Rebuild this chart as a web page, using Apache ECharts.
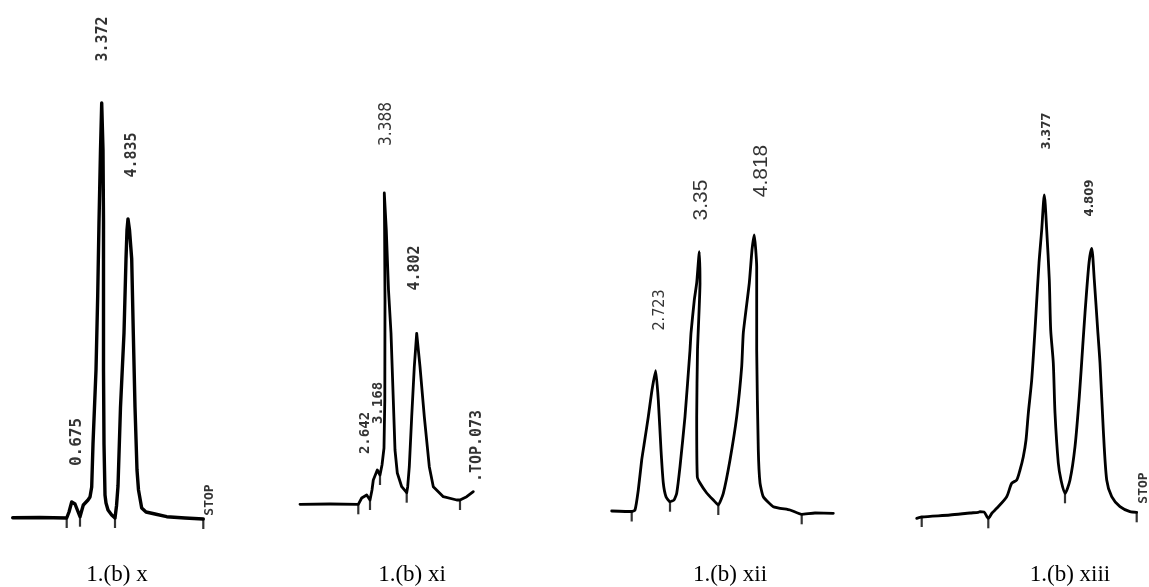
<!DOCTYPE html>
<html><head><meta charset="utf-8">
<script src="https://cdn.jsdelivr.net/npm/echarts@6/dist/echarts.min.js"></script>
<style>html,body{margin:0;padding:0;background:#fff}#c{width:1149px;height:587px}</style>
</head><body><div id="c"></div>
<script>
// Chromatogram traces: [retention time (min), detector response (a.u.)]
const traceX = [[-1.365,0.46],[0,0.5],[1.335,0.4],[1.45,1.6],[1.585,3.6],[1.75,3.2],[2.0,0.66],[2.165,3.0],[2.4,4.0],[2.5,4.6],[2.585,6.6],[2.65,15.2],[2.8,30],[2.885,44.8],[2.95,59.6],[3.025,74],[3.085,83.4],[3.15,74],[3.175,59.6],[3.175,30],[3.2,15.2],[3.25,5],[3.3,3.4],[3.4,2],[3.585,1],[3.75,0.4],[3.825,2.8],[3.9,6.8],[4.025,22.6],[4.2,37.4],[4.3,52.2],[4.35,58],[4.4,60.2],[4.475,58],[4.585,52.2],[4.665,37.4],[4.75,22.6],[4.85,10],[4.925,6],[5.085,2.4],[5.3,1.6],[5.75,1.2],[6.335,0.66],[7.25,0.4],[8.165,0.2]];
const traceXI = [[-1.0,3.14],[0.5,3.2],[1.915,3.14],[2.085,4.4],[2.335,5.0],[2.5,4.0],[2.6,6],[2.665,8],[2.865,10],[3.0,9],[3.1,11],[3.2,14.4],[3.24,24],[3.25,44],[3.23,58],[3.215,65.4],[3.315,58],[3.425,46],[3.55,37.4],[3.665,24],[3.75,14],[3.865,9.4],[4.085,6.66],[4.335,5.46],[4.385,6.66],[4.465,10.66],[4.585,20.66],[4.715,30.66],[4.835,37.34],[5.0,30.66],[5.215,20.66],[5.465,10.66],[5.665,6.66],[6.165,4.66],[6.835,4.0],[7.0,4.0],[7.335,4.66],[7.665,5.66]];
const traceXII = [[-0.415,1.8],[0.585,1.7],[0.75,2.0],[0.915,6],[1.085,12],[1.2,15],[1.415,20.66],[1.6,26],[1.785,29.86],[1.915,24],[2.05,14],[2.165,7.4],[2.3,4.66],[2.5,3.66],[2.7,4],[2.835,5.34],[3.0,10.66],[3.25,20.66],[3.5,34],[3.55,37.4],[3.715,44],[3.835,47.4],[3.965,53.66],[4.0,47.4],[3.875,34],[3.835,20.66],[3.865,8.66],[4.0,7.4],[4.335,5.4],[4.665,4.0],[4.915,3.0],[5.165,5.34],[5.5,12],[5.835,20.66],[6.085,30.66],[6.165,37.4],[6.465,47.4],[6.6,54],[6.715,57],[6.835,50.66],[6.835,34],[6.915,14],[7.0,7.4],[7.165,4.66],[7.665,2.66],[8.5,2.0],[9.085,1.14],[9.75,1.4],[10.665,1.34]];
const traceXIII = [[-0.165,0.34],[0.085,0.6],[1.5,1.0],[2.5,1.4],[2.915,1.54],[3.0,1.66],[3.2,1.6],[3.415,0.34],[3.6,1.4],[3.835,2.34],[4.335,4.66],[4.585,7.34],[4.835,8.0],[5.0,10],[5.165,12.66],[5.3,16],[5.415,21.34],[5.585,28],[5.75,38],[5.8,41.4],[5.95,51.4],[6.085,58],[6.215,65],[6.335,58],[6.465,48],[6.535,38],[6.665,31.4],[6.75,21.4],[6.915,11.4],[7.05,8],[7.25,5.34],[7.5,8],[7.75,14.66],[7.965,24.66],[8.135,34.66],[8.25,41.4],[8.45,51.4],[8.585,54.34],[8.715,48],[8.885,38],[9.0,31.4],[9.165,18],[9.335,8],[9.585,4.66],[10.0,2.66],[10.5,1.66],[10.835,1.54]];

// Integration event marks on the baseline: [time, response]
const ticksX = [[1.335,0.4],[2.0,0.66],[3.75,0.4],[8.165,0.2]];
const ticksXI = [[1.915,3.14],[2.5,4.0],[3.0,9],[4.335,5.46],[7.0,4.0]];
const ticksXII = [[0.585,1.7],[2.5,3.66],[4.915,3.0],[9.085,1.14]];
const ticksXIII = [[0.085,0.6],[3.415,0.34],[7.25,5.34],[10.835,1.54]];

// Printed retention-time annotations: [time, response, text]
const labelsX = [[3.165,96.2,'3.372'],[4.585,73,'4.835'],[1.85,15.6,'0.675'],[8.5,4,'STOP']];
const labelsXI = [[3.335,79.2,'3.388'],[4.75,50.4,'4.802'],[2.25,17.4,'2.642'],[2.9,23.4,'3.168'],[7.835,14.8,'.TOP.073']];
const labelsXII = [[2.0,42,'2.723'],[4.085,64,'3.35'],[7.085,69.8,'4.818']];
const labelsXIII = [[6.335,77.8,'3.377'],[8.5,64.4,'4.809'],[11.165,6.4,'STOP']];

const captions = ['1.(b) x','1.(b) xi','1.(b) xii','1.(b) xiii'];

// ---- styling / layout ----
const MONO = 'DejaVu Sans Mono';
const NARROW = '"DejaVu Sans Condensed", "DejaVu Sans"';
const fontsX = [[MONO,15,'bold'],[MONO,15,'bold'],[MONO,16,'bold'],[MONO,13,'bold']];
const fontsXI = [[NARROW,17,'normal'],[MONO,15,'bold'],[MONO,14,'bold'],[MONO,14,'bold'],[MONO,15,'bold']];
const fontsXII = [[NARROW,16,'normal'],['Liberation Sans',21,'normal'],['Liberation Sans',21,'normal']];
const fontsXIII = [[NARROW,13,'bold'],[NARROW,13,'bold'],[MONO,13,'bold']];

const panels = [
  {trace: traceX, ticks: ticksX, labels: labelsX, fonts: fontsX, left: 0, width: 280, xmax: 12, lw: 3.4, smooth: false},
  {trace: traceXI, ticks: ticksXI, labels: labelsXI, fonts: fontsXI, left: 280, width: 280, xmax: 12, lw: 2.8, smooth: false},
  {trace: traceXII, ticks: ticksXII, labels: labelsXII, fonts: fontsXII, left: 580, width: 280, xmax: 12, lw: 2.8, smooth: 0.15},
  {trace: traceXIII, ticks: ticksXIII, labels: labelsXIII, fonts: fontsXIII, left: 880, width: 269, xmax: 11.45, lw: 2.8, smooth: 0.25}
];
const captionX = [117, 412, 730, 1070];

const grid = [], xAxis = [], yAxis = [], series = [];
panels.forEach((p, i) => {
  grid.push({left: p.left, top: 0, width: p.width, height: 540, containLabel: false});
  xAxis.push({type: 'value', gridIndex: i, min: -2, max: p.xmax, show: false});
  yAxis.push({type: 'value', gridIndex: i, min: -4, max: 104, show: false});
  series.push({
    type: 'line', xAxisIndex: i, yAxisIndex: i, data: p.trace,
    symbol: 'none', clip: false, smooth: p.smooth,
    lineStyle: {color: '#000', width: p.lw, join: 'round', cap: 'round'}
  });
  series.push({
    type: 'scatter', xAxisIndex: i, yAxisIndex: i, data: p.ticks,
    symbol: 'rect', symbolSize: [2.2, 10], symbolOffset: [0, 5], clip: false,
    itemStyle: {color: '#000'}
  });
  series.push({
    type: 'scatter', xAxisIndex: i, yAxisIndex: i, clip: false,
    symbolSize: 0,
    data: p.labels.map((l, k) => ({
      value: [l[0], l[1]],
      label: {
        show: true, formatter: l[2], rotate: 90, position: 'inside',
        align: 'center', verticalAlign: 'middle',
        fontFamily: p.fonts[k][0], fontSize: p.fonts[k][1], fontWeight: p.fonts[k][2],
        color: '#000'
      }
    }))
  });
});

const graphic = captions.map((c, i) => ({
  type: 'text', x: captionX[i], y: 575,
  style: {text: c, font: '23px "Liberation Serif"', fill: '#000', textAlign: 'center', textVerticalAlign: 'middle'}
}));

const chart = echarts.init(document.getElementById('c'));
chart.setOption({animation: false, backgroundColor: '#fff', grid, xAxis, yAxis, series, graphic});
</script></body></html>
